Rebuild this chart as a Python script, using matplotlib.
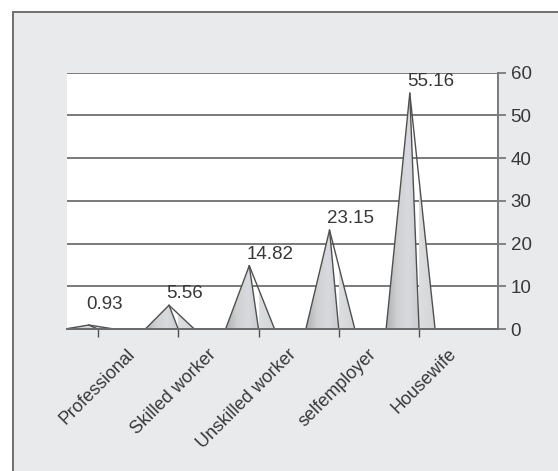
import numpy as np
import matplotlib
matplotlib.use("Agg")
import matplotlib.pyplot as plt
from matplotlib.patches import Polygon, Rectangle
from matplotlib.colors import LinearSegmentedColormap
from matplotlib.lines import Line2D

categories = ["Professional", "Skilled worker", "Unskilled worker", "selfemployer", "Housewife"]
values = [0.93, 5.56, 14.82, 23.15, 55.16]
yticks = [0, 10, 20, 30, 40, 50, 60]

plt.rcParams["font.family"] = ["Liberation Sans", "DejaVu Sans"]

W, H = 558, 471
fig = plt.figure(figsize=(W / 100, H / 100), dpi=100)
fig.patch.set_facecolor("white")

# grey panel with a dark edge on top and left
fig.patches.append(Rectangle((12.5 / W, 0), 1, 1 - 11.5 / H, transform=fig.transFigure,
                             facecolor="#e9eaeb", edgecolor="none", zorder=-10))
fig.lines.append(Line2D([12.5 / W, 12.5 / W], [0, 1 - 11.5 / H], transform=fig.transFigure,
                        color="#6e6e6e", lw=1.4, zorder=-9))
fig.lines.append(Line2D([12.5 / W, 1], [1 - 11.5 / H, 1 - 11.5 / H], transform=fig.transFigure,
                        color="#6e6e6e", lw=1.4, zorder=-9))

ax = fig.add_axes([67 / W, (H - 329) / H, (498 - 67) / W, (329 - 72.5) / H])
ax.set_facecolor("white")

left_cmap = LinearSegmentedColormap.from_list(
    "lf", ["#afb0b2", "#cfd0d2", "#d9dadd", "#cbccce"])
right_cmap = LinearSegmentedColormap.from_list("rf", ["#dddee0", "#d3d4d6"])
grad = np.linspace(0, 1, 128).reshape(1, -1)

x = np.arange(len(categories))
for xi, v in zip(x, values):
    apex = (xi - 0.115, v)
    lb, front, rb = (xi - 0.41, 0), (xi, 0), (xi + 0.2, 0)

    lf = Polygon([lb, apex, front], closed=True, facecolor="none", edgecolor="none")
    rf = Polygon([front, apex, rb], closed=True, facecolor="none", edgecolor="none")
    ax.add_patch(lf)
    ax.add_patch(rf)
    im = ax.imshow(grad, extent=(lb[0], front[0], 0, v), cmap=left_cmap,
                   aspect="auto", origin="lower", zorder=3)
    im.set_clip_path(lf)
    im = ax.imshow(grad, extent=(front[0], rb[0], 0, v), cmap=right_cmap,
                   aspect="auto", origin="lower", zorder=3)
    im.set_clip_path(rf)

    ax.plot([lb[0], apex[0], rb[0]], [0, v, 0], color="#505050", lw=1.0, zorder=4)
    ax.plot([apex[0], front[0]], [v, 0], color="#505050", lw=1.0, zorder=4)

    ax.annotate(f"{v:.2f}", xy=(apex[0], max(v, 3.2)), xytext=(-2, 2),
                textcoords="offset points", ha="left", va="bottom",
                fontsize=13.5, color="#383838", zorder=5)

ax.set_xlim(-0.386, 4.984)
ax.set_ylim(0, 60)

for s in ["left", "top"]:
    ax.spines[s].set_visible(False)
ax.spines["right"].set_color("#7a7a7a")
ax.spines["right"].set_linewidth(1.4)
ax.spines["bottom"].set_color("#6a6a6a")
ax.spines["bottom"].set_linewidth(1.4)
ax.spines["bottom"].set_zorder(6)

ax.set_yticks(yticks)
ax.yaxis.tick_right()
ax.tick_params(axis="y", length=6, width=1.3, color="#7a7a7a", labelsize=13.5,
               labelcolor="#383838", pad=3)
ax.grid(axis="y", color="#7a7a7a", lw=1.4, zorder=1)
ax.set_axisbelow(True)

# category labels sit to the right of the front edges
ax.set_xticks(x + 0.36)
ax.set_xticklabels(categories, rotation=45, ha="right", rotation_mode="anchor",
                   fontsize=13, color="#383838")
ax.tick_params(axis="x", length=0, pad=12)
ax.set_xticks(x, minor=True)
ax.tick_params(axis="x", which="minor", length=6, width=1.0, color="#505050")

fig.savefig("out.png", dpi=100)
